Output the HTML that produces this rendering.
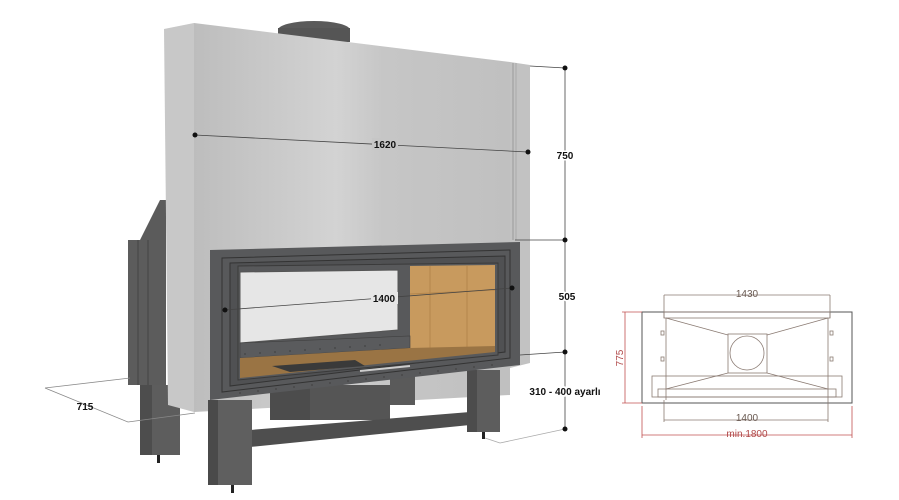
<!DOCTYPE html>
<html><head><meta charset="utf-8"><style>
html,body{margin:0;padding:0;background:#fff;width:899px;height:500px;overflow:hidden}
svg{display:block}
text{font-family:"Liberation Sans",Arial,sans-serif}
</style></head><body>
<svg width="899" height="500" viewBox="0 0 899 500" xmlns="http://www.w3.org/2000/svg">
<defs>
<linearGradient id="sil" x1="0" x2="1" y1="0" y2="0">
<stop offset="0" stop-color="#bdbdbd"/><stop offset="0.45" stop-color="#d3d3d3"/><stop offset="0.6" stop-color="#c6c6c6"/><stop offset="1" stop-color="#c0c0c0"/>
</linearGradient>
</defs>
<ellipse cx="314" cy="30" rx="36" ry="9" fill="#5a5a5a"/>
<rect x="278" y="28" width="72" height="14" fill="#555"/>
<polygon points="140,240 160,200 166,200 166,245" fill="#5b5b5b"/>
<rect x="128" y="240" width="38" height="145" fill="#5c5c5c"/>
<line x1="138" y1="240" x2="138" y2="385" stroke="#444"/>
<line x1="148" y1="240" x2="148" y2="385" stroke="#444"/>
<rect x="140" y="385" width="40" height="70" fill="#5d5d5d"/>
<rect x="140" y="385" width="12" height="70" fill="#4d4d4d"/>
<rect x="157" y="455" width="3" height="8" fill="#222"/>
<polygon points="164,29 194,23 194,412 168,405" fill="#c8c8c8"/>
<polygon points="194,23 510,62 510,395 194,412" fill="url(#sil)"/>
<polygon points="510,62 530,65 530,363 510,368" fill="#c2c2c2"/>
<line x1="513" y1="63" x2="513" y2="240" stroke="#999"/>
<line x1="516" y1="63" x2="516" y2="240" stroke="#aaa"/>
<rect x="270" y="385" width="120" height="35" fill="#555"/>
<rect x="270" y="385" width="40" height="35" fill="#4c4c4c"/>
<rect x="390" y="375" width="25" height="30" fill="#5a5a5a"/>
<polygon points="250,430 470,412 470,425 250,447" fill="#4e4e4e"/>
<rect x="467" y="370" width="33" height="62" fill="#5d5d5d"/>
<rect x="467" y="370" width="10" height="62" fill="#4c4c4c"/>
<rect x="482" y="432" width="3" height="7" fill="#222"/>
<rect x="208" y="400" width="44" height="85" fill="#5f5f5f"/>
<rect x="208" y="400" width="10" height="85" fill="#4a4a4a"/>
<rect x="231" y="485" width="3" height="8" fill="#222"/>
<!-- firebox frame -->
<polygon points="210,250 520,242 520,365 210,400" fill="#58595b"/>
<polygon points="222,258 510,250 510,358 222,392" fill="none" stroke="#333"/>
<polygon points="230,263 505,256 505,352 230,386" fill="#505153" stroke="#333"/>
<!-- window opening -->
<polygon points="238,266 498,263 498,355 238,380" fill="#58595b" stroke="#3a3a3a"/>
<polygon points="240,272 398,270 398,330 240,343" fill="#e6e6e6" stroke="#555"/>
<polygon points="410,266 495,265 495,348 410,350" fill="#c89a5e"/>
<line x1="430" y1="266" x2="430" y2="350" stroke="#b5864c"/>
<line x1="467" y1="266" x2="467" y2="348" stroke="#b5864c"/>
<line x1="410" y1="294" x2="495" y2="290" stroke="#b5864c"/>
<!-- rivet strip under glass -->
<polygon points="240,343 410,336 410,348 240,358" fill="#5a5b5d" stroke="#404040" stroke-width="0.6"/>
<!-- floor -->
<polygon points="240,358 410,348 495,346 495,352 240,378" fill="#9a7444"/>
<polygon points="272,366 355,360 365,366 290,372" fill="#3a3a3a"/>
<line x1="360" y1="371" x2="410" y2="366" stroke="#ccc" stroke-width="2"/>
<g fill="#444">
<circle cx="245" cy="354" r="0.9"/><circle cx="260" cy="353" r="0.9"/><circle cx="275" cy="352" r="0.9"/><circle cx="290" cy="351" r="0.9"/><circle cx="305" cy="350" r="0.9"/><circle cx="320" cy="349" r="0.9"/><circle cx="335" cy="348" r="0.9"/><circle cx="350" cy="347" r="0.9"/><circle cx="365" cy="346" r="0.9"/><circle cx="380" cy="345" r="0.9"/>
<circle cx="240" cy="393" r="0.9"/><circle cx="258" cy="391" r="0.9"/><circle cx="276" cy="389" r="0.9"/><circle cx="294" cy="387" r="0.9"/><circle cx="312" cy="385" r="0.9"/><circle cx="330" cy="383" r="0.9"/><circle cx="348" cy="381" r="0.9"/><circle cx="366" cy="379" r="0.9"/><circle cx="384" cy="377" r="0.9"/><circle cx="402" cy="375" r="0.9"/><circle cx="420" cy="373" r="0.9"/><circle cx="438" cy="371" r="0.9"/><circle cx="456" cy="369" r="0.9"/><circle cx="474" cy="367" r="0.9"/><circle cx="492" cy="365" r="0.9"/>
</g>
<g stroke="#444" stroke-width="0.8" fill="none">
<line x1="195" y1="135" x2="528" y2="152"/>
<line x1="565" y1="68" x2="565" y2="429"/>
<line x1="530" y1="66" x2="565" y2="68"/>
<line x1="515" y1="240" x2="565" y2="240"/>
<line x1="520" y1="355" x2="565" y2="352"/>
<line x1="225" y1="310" x2="512" y2="288"/>
<line x1="485" y1="438" x2="500" y2="443" stroke="#aaa"/>
<line x1="500" y1="443" x2="565" y2="429" stroke="#aaa"/>
<line x1="45" y1="388" x2="130" y2="378" stroke="#888"/>
<line x1="45" y1="388" x2="128" y2="422" stroke="#888"/>
<line x1="128" y1="422" x2="195" y2="413" stroke="#888"/>
</g>
<g fill="#111">
<circle cx="195" cy="135" r="2.5"/><circle cx="528" cy="152" r="2.5"/>
<circle cx="565" cy="68" r="2.5"/><circle cx="565" cy="240" r="2.5"/>
<circle cx="565" cy="352" r="2.5"/><circle cx="565" cy="429" r="2.5"/>
<circle cx="225" cy="310" r="2.5"/><circle cx="512" cy="288" r="2.5"/>
</g>
<g font-size="10" font-weight="bold" fill="#111">
<rect x="372" y="138" width="26" height="12" fill="#c6c6c6"/>
<text x="385" y="148" text-anchor="middle">1620</text>
<text x="565" y="159" text-anchor="middle" stroke="#fff" stroke-width="3" paint-order="stroke">750</text>
<text x="567" y="300" text-anchor="middle" stroke="#fff" stroke-width="3" paint-order="stroke">505</text>
<rect x="371" y="292" width="27" height="12" fill="#e6e6e6"/>
<text x="384" y="302" text-anchor="middle">1400</text>
<text x="85" y="410" text-anchor="middle">715</text>
<text x="565" y="395" text-anchor="middle" stroke="#fff" stroke-width="4" paint-order="stroke">310 - 400 ayarlı</text>
</g>
<g fill="none">
<rect x="642" y="312" width="210" height="91" stroke="#555" stroke-width="1"/>
<g stroke="#8a7a72" stroke-width="0.8">
<line x1="664" y1="295" x2="830" y2="295"/>
<line x1="664" y1="295" x2="664" y2="318"/>
<line x1="830" y1="295" x2="830" y2="318"/>
<rect x="664" y="312" width="166" height="6"/>
<line x1="666" y1="318" x2="666" y2="400"/>
<line x1="828" y1="318" x2="828" y2="400"/>
<line x1="666" y1="318" x2="728" y2="335"/>
<line x1="828" y1="318" x2="767" y2="335"/>
<rect x="728" y="334" width="39" height="39"/>
<circle cx="747" cy="353" r="17"/>
<rect x="652" y="376" width="190" height="21"/>
<rect x="658" y="389" width="178" height="8"/>
<line x1="666" y1="389" x2="728" y2="373"/>
<line x1="828" y1="389" x2="767" y2="373"/>
<rect x="661" y="331" width="3" height="4"/><rect x="661" y="357" width="3" height="4"/>
<rect x="830" y="331" width="3" height="4"/><rect x="830" y="357" width="3" height="4"/>
<line x1="664" y1="420" x2="828" y2="420"/>
<line x1="664" y1="400" x2="664" y2="422"/>
<line x1="828" y1="400" x2="828" y2="422"/>
</g>
<g stroke="#c05050" stroke-width="0.8">
<line x1="625" y1="312" x2="625" y2="403"/>
<line x1="622" y1="312" x2="642" y2="312"/>
<line x1="622" y1="403" x2="642" y2="403"/>
<line x1="642" y1="435" x2="852" y2="435"/>
<line x1="642" y1="406" x2="642" y2="438"/>
<line x1="852" y1="406" x2="852" y2="438"/>
</g>
</g>
<g font-size="10" fill="#6a5a52">
<text x="747" y="297" text-anchor="middle">1430</text>
<text x="747" y="421" text-anchor="middle">1400</text>
<text x="747" y="437" text-anchor="middle" fill="#b04848">min.1800</text>
<text transform="translate(623,358) rotate(-90)" text-anchor="middle" fill="#b04848">775</text>
</g>
</svg>
</body></html>
